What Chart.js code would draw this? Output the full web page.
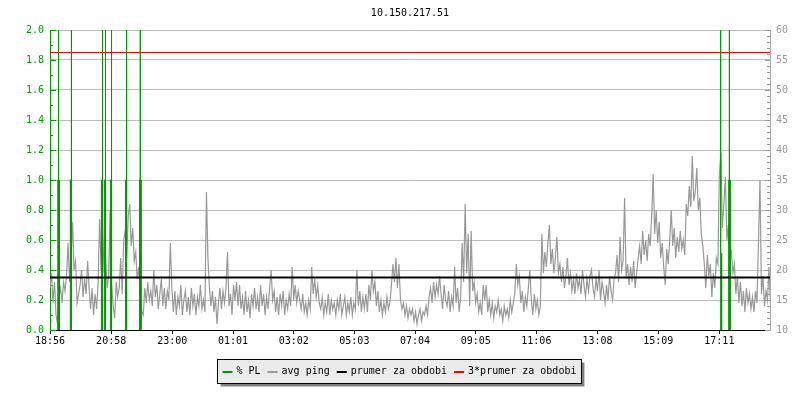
<!doctype html>
<html>
  <head>
    <meta charset="utf-8">
    <title>10.150.217.51</title>
    <script src="https://cdn.jsdelivr.net/npm/chart.js@4.4.1/dist/chart.umd.min.js"></script>
    <style>
    html, body { margin: 0; padding: 0; background: #fff; }
    canvas { display: block; }
    </style>
  </head>

  <body>
    <canvas id="canvas" width="800" height="400"></canvas>

    <script>
      // x axis is minutes since 18:56
      const xTickMinutes = [0, 122, 244, 365, 486, 607, 728, 849, 970, 1092, 1213, 1335];
      const xTickLabels = ['18:56', '20:58', '23:00', '01:01', '03:02', '05:03', '07:04', '09:05', '11:06', '13:08', '15:09', '17:11'];
      const xMax = 1436;

      // avg ping (ms), one sample every 3 minutes (10 samples per row = 30 min)
      const pingStep = 3;
      const pingMs = [
        17, 19.5, 14.5, 18, 12.5, 11, 15.5, 17, 14.5, 18,
        16.5, 19, 24.5, 18, 22, 28, 20, 21.5, 14.5, 16,
        17.5, 20, 15.5, 18.5, 16, 21.5, 17, 13.5, 17, 12.5,
        16, 13.5, 18, 28.5, 20, 27, 19.5, 22, 17, 19,
        30, 17.5, 14, 12, 18, 15.5, 17, 22, 16, 25,
        26.5, 22, 29, 31, 24, 27, 21.5, 23, 18.5, 20.5,
        16, 13, 12.5, 17, 14.5, 18, 15, 16.5, 14, 20,
        15.5, 17.5, 13.5, 16, 18.5, 14, 17, 13.5, 16.5, 15,
        24.5, 17, 13, 16.5, 12.5, 15.5, 14, 17.5, 12.5, 15,
        16.5, 13, 15.5, 12.5, 17, 14, 16, 12.5, 15.5, 14,
        17.5, 13.5, 15, 13, 33, 22, 17, 14, 16.5, 13,
        15.5, 11, 14.5, 17, 13.5, 16.5, 14.5, 17, 23, 14,
        16, 12.5, 17.5, 15, 18, 14, 17.5, 13.5, 15.5, 12.5,
        16.5, 13, 15, 12, 16, 14, 17, 13.5, 15.5, 13,
        17.5, 14, 16, 12.5, 15.5, 13.5, 17, 20, 15, 16.5,
        13, 15.5, 12.5, 16, 14, 16.5, 12.5, 15, 13.5, 16,
        14, 20.5, 15, 17.5, 14.5, 16.5, 15, 13.5, 16, 13,
        14.5, 12.5, 15, 13.5, 20.5, 16, 18.5, 15.5, 17.5, 14.5,
        13.5, 15.5, 12.5, 14.5, 13, 16, 12.5, 15, 13.5, 14.5,
        12.5, 15, 13.5, 16, 12.5, 14, 15.5, 12.5, 14.5, 13,
        15.5, 12.5, 14.5, 13.5, 20, 14, 16.5, 13, 15.5, 13.5,
        16, 13, 17.5, 15, 20, 16.5, 18, 14, 16.5, 13,
        15, 12.5, 14.5, 13, 15.5, 13.5, 14.5, 17.5, 21, 18,
        22, 17, 21, 15, 13.5, 14.5, 12.5, 14, 12, 13.5,
        12.5, 13.5, 11.5, 13, 11, 12.5, 13.5, 11.5, 13, 12.5,
        14, 12.5, 15.5, 17, 14.5, 18, 15.5, 17.5, 16, 19,
        16, 13.5, 17.5, 15, 14, 16.5, 13, 15.5, 14, 20.5,
        14.5, 17, 13, 15.5, 24.5, 18, 31, 19.5, 26, 14,
        26.5, 16.5, 18, 14.5, 16, 13, 14.5, 12.5, 17.5, 15,
        17.5, 13, 15, 12.5, 14.5, 12, 14, 13, 15, 12.5,
        13.5, 11.5, 14, 12.5, 13.5, 12, 15, 13, 14.5, 16,
        21, 17.5, 19, 14.5, 16.5, 13, 15.5, 14, 17, 20,
        15, 12.5, 16, 13.5, 15, 12.5, 14, 26, 19.5, 23,
        20.5, 24.5, 27.5, 21, 23.5, 19.5, 22, 25.5, 19.5, 21,
        18, 20.5, 17, 19, 22, 17.5, 19.5, 16.5, 18.5, 16,
        19.5, 17, 18.5, 16, 20, 17.5, 15.5, 18.5, 16.5, 19,
        20, 17, 15.5, 18.5, 16.5, 20, 15, 18, 16.5, 14.5,
        17.5, 15, 19, 16.5, 15, 18.5, 19.5, 22.5, 18, 25.5,
        20, 21.5, 32, 18.5, 21, 17.5, 20.5, 18, 21.5, 17,
        19.5, 22, 24, 21, 26.5, 22.5, 25, 21.5, 26, 24,
        29, 36, 26, 30, 24.5, 28, 22, 24.5, 20.5, 17.5,
        23.5, 21, 25, 30, 24, 27, 22, 25.5, 23, 26.5,
        23.5, 25, 22.5, 31, 29, 34, 30.5, 39, 31.5, 33,
        37, 30, 32, 26, 24, 21, 17, 22.5, 19, 21,
        15.5, 19.5, 17, 22, 21, 36, 39.5, 27, 31, 35.5,
        25, 27.5, 21.5, 23, 19.5, 21, 16, 19, 14.5, 18,
        14, 16.5, 13, 17, 14.5, 16, 13.5, 15.5, 13, 16.5,
        14.5, 24.5, 35, 16, 19, 14, 16.5, 15, 20.5, 14,
        12.5
      ];

      // packet loss events (%): minute, plateau level, peak
      const plMinutes = [17, 42, 104, 110, 122, 152, 180, 1338, 1355];
      const plLevels = [1, 1, 1, 1, 1, 1, 1, 0.51, 1];
      const plPeaks = [100, 100, 100, 100, 100, 100, 100, 100, 100];

      const avgPing = 18.75;
      const tripleAvgPing = 56.25;

      const FONT = "'DejaVu Sans Mono', monospace";
      const GREEN = '#009900';

      const pingData = pingMs.map((v, i) => ({ x: i * pingStep, y: v }));

      const plData = [];
      plMinutes.forEach((t, i) => {
        plData.push(
          { x: t - 1.5, y: 0 }, { x: t - 1.5, y: plLevels[i] },
          { x: t, y: plLevels[i] }, { x: t, y: plPeaks[i] }, { x: t, y: plLevels[i] },
          { x: t + 1.5, y: plLevels[i] }, { x: t + 1.5, y: 0 },
          { x: t + 2, y: null }
        );
      });

      const decor = {
        id: 'decor',
        beforeDatasetsDraw(chart) {
          const ctx = chart.ctx, a = chart.chartArea;
          const yl = chart.scales.y, yr = chart.scales.y2;
          ctx.save();
          ctx.lineWidth = 1;
          ctx.strokeStyle = GREEN;
          for (let k = 0; k <= 20; k++) {
            const py = Math.round(yl.getPixelForValue(k / 10)) + 0.5;
            const len = k % 2 === 0 ? 6 : 3;
            ctx.beginPath();
            ctx.moveTo(a.left, py);
            ctx.lineTo(a.left + len, py);
            ctx.stroke();
          }
          ctx.strokeStyle = '#999';
          for (let v = 10; v <= 60; v++) {
            const py = Math.round(yr.getPixelForValue(v)) + 0.5;
            const len = v % 5 === 0 ? 5 : 3;
            ctx.beginPath();
            ctx.moveTo(a.right, py);
            ctx.lineTo(a.right - len, py);
            ctx.stroke();
          }
          ctx.restore();
        },
        afterDraw(chart) {
          const ctx = chart.ctx, a = chart.chartArea;
          ctx.save();
          // title
          ctx.font = '10px ' + FONT;
          ctx.fillStyle = '#000';
          ctx.textAlign = 'center';
          ctx.textBaseline = 'middle';
          ctx.fillText('10.150.217.51', (a.left + a.right) / 2, 13);

          // legend box
          const items = chart.data.datasets;
          const sw = 10, gapIn = 4, gapOut = 7, pad = 5;
          let w = pad * 2;
          items.forEach((d, i) => {
            w += sw + gapIn + ctx.measureText(d.label).width;
            if (i < items.length - 1) w += gapOut;
          });
          const bx = Math.round(399 - w / 2) + 0.5, by = 359.5, bh = 24;
          ctx.fillStyle = '#808080';
          ctx.fillRect(bx + 3, by + 3, w, bh);
          ctx.fillStyle = '#ebebeb';
          ctx.fillRect(bx, by, w, bh);
          ctx.strokeStyle = '#000';
          ctx.lineWidth = 1;
          ctx.strokeRect(bx, by, w, bh);

          ctx.textAlign = 'left';
          let cx = bx + pad;
          const cy = by + bh / 2;
          items.forEach((d) => {
            ctx.fillStyle = d.borderColor;
            ctx.fillRect(cx, Math.round(cy) - 1, sw, 2);
            cx += sw + gapIn;
            ctx.fillStyle = '#000';
            ctx.fillText(d.label, cx, cy);
            cx += ctx.measureText(d.label).width + gapOut;
          });
          ctx.restore();
        }
      };

      const config = {
        type: 'line',
        data: {
          datasets: [
            { label: '% PL', data: plData, yAxisID: 'y', borderColor: GREEN, backgroundColor: GREEN,
              fill: 'origin', borderWidth: 1, pointRadius: 0, tension: 0, order: 3 },
            { label: 'avg ping', data: pingData, yAxisID: 'y2', borderColor: '#999999', borderWidth: 1.2,
              pointRadius: 0, tension: 0, order: 4 },
            { label: 'prumer za obdobi', data: [{ x: 0, y: avgPing }, { x: xMax, y: avgPing }], yAxisID: 'y2',
              borderColor: '#000000', borderWidth: 2, pointRadius: 0, order: 2 },
            { label: '3*prumer za obdobi', data: [{ x: 0, y: tripleAvgPing }, { x: xMax, y: tripleAvgPing }], yAxisID: 'y2',
              borderColor: '#ff0000', borderWidth: 1, pointRadius: 0, order: 1 }
          ]
        },
        options: {
          responsive: false,
          animation: false,
          devicePixelRatio: 1,
          layout: { padding: { top: 30, bottom: 50, left: 0, right: 0 } },
          plugins: { legend: { display: false }, title: { display: false }, tooltip: { enabled: false } },
          scales: {
            x: {
              type: 'linear', min: 0, max: xMax,
              afterBuildTicks: (s) => { s.ticks = xTickMinutes.map(v => ({ value: v })); },
              afterFit: (s) => { s.height = 20; },
              ticks: { color: '#000', font: { family: FONT, size: 10 }, padding: 1, maxRotation: 0, autoSkip: false,
                callback: (v, i) => xTickLabels[i] },
              grid: { drawOnChartArea: false, drawTicks: true, tickLength: 4, color: '#000' },
              border: { color: '#000', width: 1 }
            },
            y: {
              position: 'left', min: 0, max: 2,
              afterFit: (s) => { s.width = 50; },
              ticks: { stepSize: 0.2, color: GREEN, font: { family: FONT, size: 10 }, padding: 6,
                callback: (v) => Number(v).toFixed(1) },
              grid: { color: '#bbbbbb', drawTicks: false },
              border: { color: GREEN, width: 1 }
            },
            y2: {
              position: 'right', min: 10, max: 60,
              afterFit: (s) => { s.width = 30; },
              ticks: { stepSize: 5, color: '#999999', font: { family: FONT, size: 10 }, padding: 6 },
              grid: { drawOnChartArea: false, drawTicks: false },
              border: { color: '#aaaaaa', width: 1 }
            }
          }
        },
        plugins: [decor]
      };

      window.onload = function() {
        let ctx = document.getElementById('canvas').getContext('2d');
        window.myLine = new Chart(ctx, config);
      };
    </script>
  </body>
</html>
